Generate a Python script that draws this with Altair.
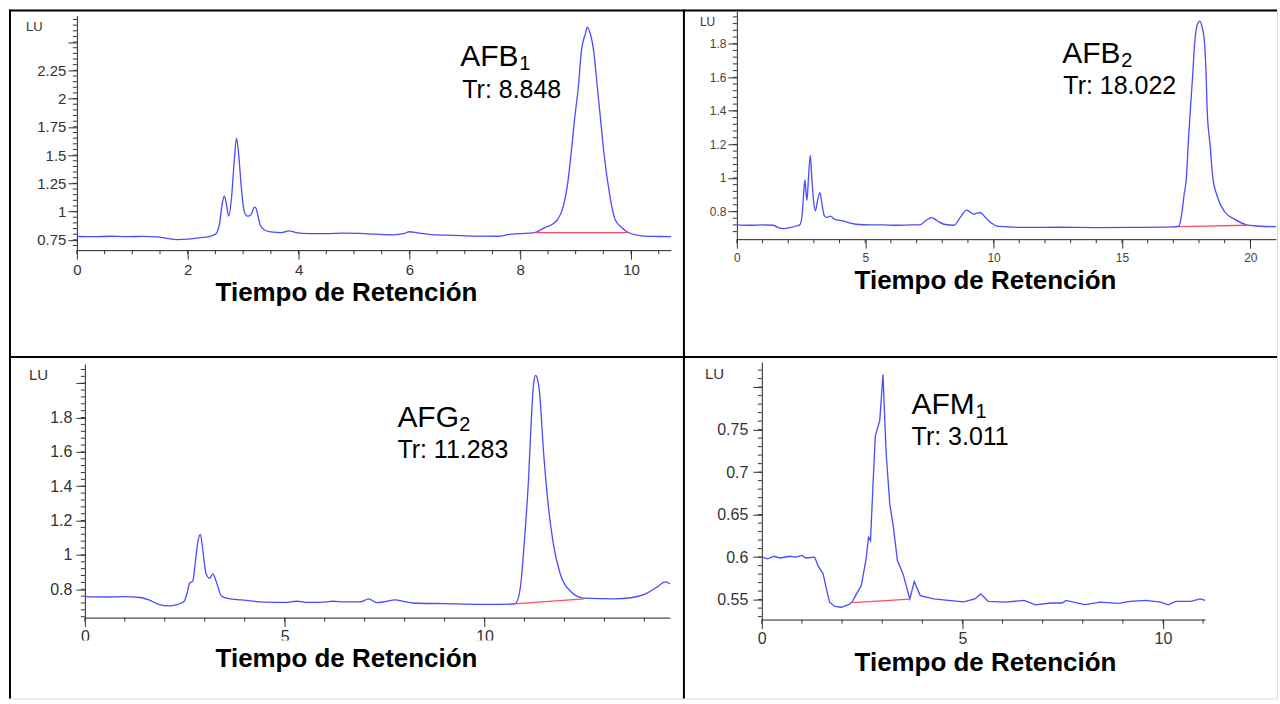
import altair as alt
import pandas as pd

# ---------------- data ----------------
# Panel 1: AFB1
afb1_t = [0.0, 0.3, 0.6, 0.9, 1.2, 1.45, 1.6, 1.8, 2.0, 2.2, 2.4, 2.5, 2.57, 2.62, 2.66, 2.70, 2.74,
          2.79, 2.84, 2.88, 2.92, 2.97, 3.02, 3.08, 3.14, 3.19, 3.22, 3.26, 3.31, 3.38, 3.5, 3.7, 3.83,
          3.95, 4.2, 4.5, 4.8, 5.1, 5.4, 5.7, 5.9, 6.0, 6.15, 6.4, 6.8, 7.2, 7.6, 7.8, 8.0, 8.26, 8.45,
          8.6, 8.68, 8.78, 8.85, 8.92, 8.98, 9.05, 9.10, 9.18, 9.21, 9.26, 9.33, 9.39, 9.45, 9.51, 9.59,
          9.65, 9.71, 9.83, 9.95, 10.19, 10.5, 10.72]
afb1_lu = [0.780, 0.778, 0.782, 0.779, 0.781, 0.777, 0.765, 0.752, 0.756, 0.768, 0.782, 0.80, 0.88,
           1.06, 1.14, 1.06, 0.96, 1.12, 1.45, 1.65, 1.50, 1.20, 1.00, 0.96, 0.97, 1.03, 1.04, 0.98,
           0.88, 0.84, 0.82, 0.815, 0.83, 0.815, 0.805, 0.805, 0.81, 0.807, 0.80, 0.795, 0.805, 0.822,
           0.812, 0.797, 0.79, 0.783, 0.782, 0.798, 0.805, 0.815, 0.86, 0.895, 0.933, 1.05, 1.227,
           1.521, 1.815, 2.109, 2.404, 2.58, 2.633, 2.58, 2.404, 2.109, 1.815, 1.521, 1.227, 1.05,
           0.933, 0.86, 0.815, 0.785, 0.78, 0.778]
afb1_base_t = [8.26, 9.95]
afb1_base_lu = [0.815, 0.815]

# Panel 2: AFB2
afb2_t = [0.0, 0.5, 1.0, 1.4, 1.6, 1.8, 2.1, 2.35, 2.45, 2.53, 2.60, 2.65, 2.69, 2.73, 2.79, 2.86,
          2.92, 2.99, 3.06, 3.15, 3.24, 3.32, 3.41, 3.52, 3.64, 3.8, 4.12, 4.64, 5.2, 5.67, 6.2, 6.8,
          7.15, 7.35, 7.59, 7.8, 8.07, 8.46, 8.7, 8.95, 9.1, 9.23, 9.35, 9.49, 9.65, 9.82, 10.21, 11.3,
          12.5, 14.0, 15.5, 17.0, 17.22, 17.34, 17.42, 17.51, 17.58, 17.66, 17.75, 17.83, 17.95, 18.03,
          18.12, 18.22, 18.28, 18.32, 18.43, 18.54, 18.69, 18.99, 19.43, 19.87, 20.4, 21.0]
afb2_lu = [0.72, 0.718, 0.72, 0.718, 0.705, 0.698, 0.705, 0.715, 0.72, 0.764, 0.90, 0.988, 0.92,
           0.867, 1.0, 1.135, 1.0, 0.86, 0.804, 0.87, 0.913, 0.84, 0.774, 0.765, 0.772, 0.755, 0.744,
           0.724, 0.72, 0.72, 0.718, 0.72, 0.722, 0.745, 0.764, 0.745, 0.724, 0.718, 0.765, 0.808,
           0.795, 0.784, 0.79, 0.794, 0.77, 0.744, 0.711, 0.705, 0.706, 0.704, 0.705, 0.708, 0.712,
           0.80, 0.90, 1.0, 1.2, 1.4, 1.6, 1.8, 1.92, 1.935, 1.9, 1.8, 1.6, 1.4, 1.2, 1.0, 0.9, 0.8,
           0.75, 0.72, 0.712, 0.71]
afb2_base_t = [17.22, 19.87]
afb2_base_lu = [0.71, 0.718]

# Panel 3: AFG2
afg2_t = [0.0, 0.5, 1.0, 1.38, 1.6, 1.85, 2.1, 2.3, 2.48, 2.56, 2.62, 2.70, 2.76, 2.83, 2.89, 2.95,
          3.03, 3.12, 3.2, 3.28, 3.42, 3.6, 3.91, 4.5, 5.0, 5.3, 5.6, 6.0, 6.2, 6.5, 6.9, 7.1, 7.3,
          7.5, 7.76, 8.0, 8.2, 9.0, 10.0, 10.73, 10.79, 10.9, 11.0, 11.1, 11.17, 11.23, 11.28, 11.33,
          11.37, 11.48, 11.59, 11.72, 11.89, 12.16, 12.49, 13.26, 13.7, 14.03, 14.3, 14.53, 14.64]
afg2_lu = [0.757, 0.755, 0.757, 0.752, 0.738, 0.712, 0.703, 0.71, 0.728, 0.78, 0.835, 0.848, 0.95,
           1.08, 1.12, 1.03, 0.893, 0.864, 0.889, 0.85, 0.761, 0.745, 0.738, 0.725, 0.723, 0.73,
           0.724, 0.725, 0.73, 0.726, 0.727, 0.744, 0.722, 0.727, 0.738, 0.728, 0.72, 0.716, 0.712,
           0.714, 0.72, 0.816, 1.087, 1.435, 1.784, 2.0, 2.046, 2.02, 1.963, 1.59, 1.3, 1.067, 0.893,
           0.787, 0.748, 0.744, 0.752, 0.773, 0.81, 0.843, 0.83]
afg2_base_t = [10.73, 12.49]
afg2_base_lu = [0.715, 0.744]

# Panel 4: AFM1
afm1_t = [0.0, 0.15, 0.3, 0.45, 0.7, 0.85, 1.0, 1.1, 1.32, 1.40, 1.53, 1.61, 1.69, 1.82, 1.98, 2.15,
          2.25, 2.36, 2.48, 2.60, 2.66, 2.71, 2.77, 2.83, 2.94, 3.02, 3.10, 3.19, 3.28, 3.38, 3.52,
          3.69, 3.80, 3.95, 4.28, 4.65, 5.03, 5.31, 5.46, 5.64, 6.07, 6.54, 6.82, 7.2, 7.49, 7.58,
          8.05, 8.44, 8.9, 9.18, 9.56, 9.94, 10.13, 10.32, 10.69, 10.93, 11.05]
afm1_lu = [0.600, 0.598, 0.601, 0.599, 0.601, 0.600, 0.602, 0.599, 0.600, 0.590, 0.580, 0.5626,
           0.547, 0.542, 0.541, 0.5437, 0.547, 0.5567, 0.5665, 0.598, 0.6234, 0.6194, 0.684, 0.7429,
           0.7606, 0.8147, 0.7214, 0.6626, 0.6352, 0.5959, 0.5802, 0.5508, 0.5712, 0.5547, 0.5508,
           0.549, 0.5473, 0.5508, 0.5567, 0.548, 0.547, 0.549, 0.5438, 0.546, 0.546, 0.549, 0.544,
           0.547, 0.5455, 0.548, 0.549, 0.547, 0.5438, 0.548, 0.548, 0.5508, 0.549]
afm1_base_t = [2.27, 3.69]
afm1_base_lu = [0.5465, 0.5505]

# axis tick values
p1_xmajor = [0, 2, 4, 6, 8, 10]
p1_ymajor = [0.75, 1, 1.25, 1.5, 1.75, 2, 2.25, 2.5]
p2_xmajor = [0, 5, 10, 15, 20]
p2_ymajor = [0.8, 1.0, 1.2, 1.4, 1.6, 1.8]
p3_xmajor = [0, 5, 10]
p3_ymajor = [0.8, 1.0, 1.2, 1.4, 1.6, 1.8, 2.0]
p4_xmajor = [0, 5, 10]
p4_ymajor = [0.55, 0.6, 0.65, 0.7, 0.75, 0.8]

BLUE = "#4b4bff"
RED = "#ff4f5f"
INK = "#333333"
FONT = "Liberation Sans"
one = pd.DataFrame({"k": [0]})


def ticks(start, stop, step):
    n = int(round((stop - start) / step))
    return [round(start + i * step, 4) for i in range(n + 1)]


def panel(t, lu, bt, blu, cell, plot, xdom, ydom, xmaj, ymaj, xminor, yminor, hide_above,
          fs_tick, lab_pad_x, lab_pad_y, lu_pos, fs_lu, name, sub, tr,
          name_pos, name_w, tr_pos, title_pos, interp="monotone", mask=None, label_color=INK):
    CW, CH = cell            # table cell size (the chart's own area)
    x0, y0, W, H = plot      # plot rectangle inside the cell
    xs = alt.Scale(domain=xdom, range=[x0, x0 + W], nice=False, zero=False)
    ys = alt.Scale(domain=ydom, range=[y0 + H, y0], nice=False, zero=False)
    lab = "format(datum.value, '~r')"
    xaxis = alt.Axis(values=xmaj, title=None, grid=False, tickSize=9, labelFontSize=fs_tick,
                     labelPadding=lab_pad_x, labelFlush=False, labelOverlap=False,
                     labelExpr=lab, labelColor=label_color, offset=-(CH - y0 - H))
    yaxis = alt.Axis(values=ymaj, title=None, grid=False, tickSize=9, labelFontSize=fs_tick,
                     labelPadding=lab_pad_y, labelOverlap=False,
                     labelExpr=f"datum.value > {hide_above} ? '' : {lab}",
                     labelColor=label_color, offset=-x0)
    layers = []
    # table borders (top and left of each cell), as filled bars so they stay inside the cell
    layers.append(alt.Chart(one).mark_rect(color="black").encode(
        x=alt.value(0), x2=alt.value(CW), y=alt.value(0), y2=alt.value(2)))
    layers.append(alt.Chart(one).mark_rect(color="black").encode(
        x=alt.value(0), x2=alt.value(2), y=alt.value(0), y2=alt.value(CH)))
    # minor ticks
    layers.append(alt.Chart(pd.DataFrame({"t": xminor})).mark_rule(color=INK, strokeWidth=1).encode(
        x=alt.X("t:Q", scale=xs), y=alt.value(y0 + H), y2=alt.value(y0 + H + 4)))
    layers.append(alt.Chart(pd.DataFrame({"lu": yminor})).mark_rule(color=INK, strokeWidth=1).encode(
        y=alt.Y("lu:Q", scale=ys), x=alt.value(x0), x2=alt.value(x0 - 4)))
    # chromatogram
    layers.append(alt.Chart(pd.DataFrame({"t": t, "lu": lu})).mark_line(
        color=BLUE, strokeWidth=1.3, interpolate=interp).encode(
        x=alt.X("t:Q", scale=xs, axis=xaxis), y=alt.Y("lu:Q", scale=ys, axis=yaxis)))
    # integration baseline
    layers.append(alt.Chart(pd.DataFrame({"t": bt, "lu": blu})).mark_line(
        color=RED, strokeWidth=1.3).encode(
        x=alt.X("t:Q", scale=xs), y=alt.Y("lu:Q", scale=ys)))
    # texts
    def txt(s, pos, size, color="black", weight="normal", align="left"):
        return alt.Chart(one).mark_text(text=s, font=FONT, fontSize=size, color=color,
                                        fontWeight=weight, align=align,
                                        baseline="alphabetic").encode(
            x=alt.value(x0 + pos[0]), y=alt.value(y0 + pos[1]))
    layers.append(txt("LU", lu_pos, fs_lu, color=INK))
    layers.append(txt(name, name_pos, 30))
    layers.append(txt(sub, (name_pos[0] + name_w, name_pos[1] + 4), 20))
    layers.append(txt(tr, tr_pos, 25))
    if mask is not None:
        layers.append(alt.Chart(one).mark_rect(color="white").encode(
            x=alt.value(x0 + mask[0]), x2=alt.value(x0 + mask[2]),
            y=alt.value(y0 + mask[1]), y2=alt.value(y0 + mask[3])))
    layers.append(txt("Tiempo de Retención", title_pos, 26, weight="bold", align="center"))
    return alt.layer(*layers).properties(width=CW, height=CH)


p1 = panel(afb1_t, afb1_lu, afb1_base_t, afb1_base_lu, (675, 347), (68, 6, 595, 235),
           [0, 10.72], [0.659, 2.735], p1_xmajor, p1_ymajor, ticks(0, 10.5, 0.5),
           ticks(0.70, 2.70, 0.05), 2.4, 15, 3, 2, (-51, 16), 13, "AFB", "1", "Tr: 8.848",
           (384, 51), 59, (386, 83), (270, 286))
p2 = panel(afb2_t, afb2_lu, afb2_base_t, afb2_base_lu, (595, 347), (54, 2, 540, 228),
           [0, 21.0], [0.635, 1.992], p2_xmajor, p2_ymajor, ticks(0, 20, 1),
           ticks(0.68, 1.96, 0.04), 1.9, 12, 4, 2, (-37, 14), 12, "AFB", "2", "Tr: 18.022",
           (326, 52), 59, (327, 83), (249, 278), label_color="#444444")
p3 = panel(afg2_t, afg2_lu, afg2_base_t, afg2_base_lu, (675, 343), (76, 8, 586, 254),
           [0, 14.64], [0.635, 2.112], p3_xmajor, p3_ymajor, ticks(0, 14, 1),
           ticks(0.64, 2.08, 0.04), 1.9, 16, 2, 4, (-56, 16), 15, "AFG", "2", "Tr: 11.283",
           (313, 63), 62, (313, 94), (262, 303), mask=(-70, 277, 595, 296))
p4 = panel(afm1_t, afm1_lu, afm1_base_t, afm1_base_lu, (595, 343), (79, 6, 444, 258),
           [0, 11.05], [0.5265, 0.8296], p4_xmajor, p4_ymajor, ticks(0, 11, 1),
           ticks(0.53, 0.82, 0.01), 0.78, 16, 2, 5, (-57, 17), 15, "AFM", "1", "Tr: 3.011",
           (150, 52), 64, (150, 83), (224, 310), interp="linear")

chart = alt.concat(p1, p2, p3, p4, columns=2, spacing=0, bounds="flush", align="none").properties(
    padding={"left": 8, "top": 8, "right": 0, "bottom": 0}
).configure_view(stroke=None).configure(background="white").configure_axis(
    domainColor="#222222", tickColor=INK, labelFont=FONT, domainWidth=1, tickWidth=1
)

chart.save("out.html", embed_options={"renderer": "svg", "actions": False})
